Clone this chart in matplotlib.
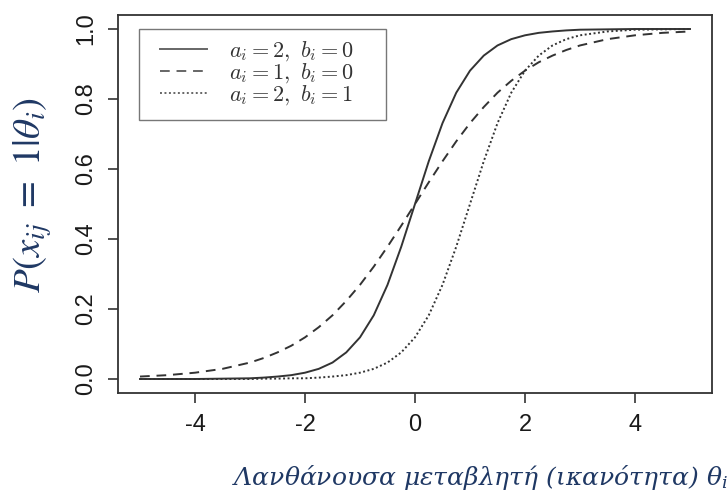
import matplotlib
matplotlib.use("Agg")
import matplotlib.pyplot as plt
from matplotlib.patches import Rectangle

theta = [-5, -4.5, -4, -3.5, -3, -2.75, -2.5, -2.25, -2, -1.75, -1.5, -1.25,
         -1, -0.75, -0.5, -0.25, 0, 0.25, 0.5, 0.75, 1, 1.25, 1.5, 1.75,
         2, 2.25, 2.5, 2.75, 3, 3.5, 4, 4.5, 5]

# a=2, b=0 (solid)
p_a2_b0 = [0.000, 0.000, 0.000, 0.001, 0.002, 0.004, 0.007, 0.011, 0.018,
           0.029, 0.047, 0.076, 0.119, 0.182, 0.269, 0.378, 0.500, 0.622,
           0.731, 0.818, 0.881, 0.924, 0.953, 0.971, 0.982, 0.989, 0.993,
           0.996, 0.998, 0.999, 1.000, 1.000, 1.000]

# a=1, b=0 (dashed)
p_a1_b0 = [0.007, 0.011, 0.018, 0.029, 0.047, 0.060, 0.076, 0.095, 0.119,
           0.148, 0.182, 0.223, 0.269, 0.321, 0.378, 0.438, 0.500, 0.562,
           0.622, 0.679, 0.731, 0.777, 0.818, 0.852, 0.881, 0.905, 0.924,
           0.940, 0.953, 0.971, 0.982, 0.989, 0.993]

# a=2, b=1 (dotted)
p_a2_b1 = [0.000, 0.000, 0.000, 0.000, 0.000, 0.001, 0.001, 0.002, 0.002,
           0.004, 0.007, 0.011, 0.018, 0.029, 0.047, 0.076, 0.119, 0.182,
           0.269, 0.378, 0.500, 0.622, 0.731, 0.818, 0.881, 0.924, 0.953,
           0.971, 0.982, 0.993, 0.998, 0.999, 1.000]

labels = [r"$a_i = 2,\ b_i = 0$", r"$a_i = 1,\ b_i = 0$", r"$a_i = 2,\ b_i = 1$"]
xticks = [-4, -2, 0, 2, 4]
yticks = [0.0, 0.2, 0.4, 0.6, 0.8, 1.0]

fig = plt.figure(figsize=(7.28, 5.03), dpi=100, facecolor="white")
ax = fig.add_axes([118 / 728, 1 - 393 / 503, (712 - 118) / 728, (393 - 15) / 503])

line_col = "#333333"
ax.plot(theta, p_a2_b0, color=line_col, lw=1.4, ls="-", label=labels[0])
ax.plot(theta, p_a1_b0, color=line_col, lw=1.4, ls=(0, (5, 3.5)), label=labels[1])
ax.plot(theta, p_a2_b1, color=line_col, lw=1.4, ls=(0, (1, 1.3)), label=labels[2])

ax.set_xlim(-5.4, 5.4)
ax.set_ylim(-0.04, 1.04)
ax.set_xticks(xticks)
ax.set_xticklabels([str(t) for t in xticks])
ax.set_yticks(yticks)
ax.set_yticklabels([f"{t:.1f}" for t in yticks], rotation=90, va="center")

for s in ax.spines.values():
    s.set_color("#333333")
    s.set_linewidth(1.3)
ax.tick_params(direction="out", length=7, width=1.2, color="#333333",
               labelsize=17, labelcolor="#1a1a1a", pad=8)
for lab in ax.get_xticklabels() + ax.get_yticklabels():
    lab.set_family("Liberation Sans")

# legend without its own frame, R-style box drawn separately
leg = ax.legend(loc="upper left", bbox_to_anchor=(0.0707, 0.9365), borderaxespad=0,
                frameon=False, prop={"size": 16}, handlelength=2.1,
                handletextpad=1.0, borderpad=0, labelspacing=-0.08)
for t in leg.get_texts():
    t.set_math_fontfamily("cm")
    t.set_color("#333333")
for h in leg.get_lines():
    h.set_color("#666666")
ax.add_patch(Rectangle((0.0354, 0.722), 0.4158, 0.241, transform=ax.transAxes,
                       fill=False, edgecolor="#777777", linewidth=1.0, zorder=5))

navy = "#1f3864"
fig.text(33 / 728, 1 - 195 / 503, r"$P(x_{ij}\ =\ 1|\theta_i)$", rotation=90,
         ha="center", va="center", fontsize=28, color=navy, math_fontfamily="stix")
fig.text(480 / 728, 1 - 478 / 503, r"Λανθάνουσα μεταβλητή (ικανότητα) $\theta_i$",
         ha="center", va="center", fontsize=18, color=navy, family="DejaVu Serif",
         style="italic", math_fontfamily="dejavuserif")

fig.savefig("out.png", dpi=100)
